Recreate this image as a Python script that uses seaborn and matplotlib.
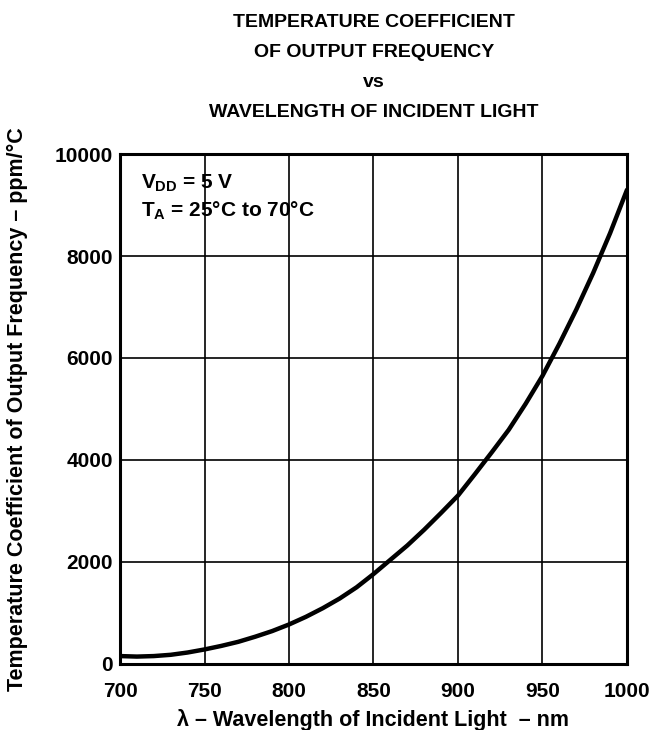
import matplotlib
matplotlib.use("Agg")
import matplotlib.pyplot as plt
import seaborn as sns
import pandas as pd

# values
wavelength = [700, 710, 720, 730, 740, 750, 760, 770, 780, 790, 800,
              810, 820, 830, 840, 850, 860, 870, 880, 890, 900,
              910, 920, 930, 940, 950, 960, 970, 980, 990, 1000]
tempco = [150, 140, 150, 175, 220, 280, 350, 430, 530, 640, 770,
          920, 1090, 1280, 1500, 1760, 2040, 2320, 2630, 2960, 3300,
          3720, 4150, 4590, 5100, 5650, 6280, 6950, 7670, 8450, 9300]

x_ticks = [700, 750, 800, 850, 900, 950, 1000]
y_ticks = [0, 2000, 4000, 6000, 8000, 10000]

title = "TEMPERATURE COEFFICIENT\nOF OUTPUT FREQUENCY\nvs\nWAVELENGTH OF INCIDENT LIGHT"
xlabel = "λ – Wavelength of Incident Light  – nm"
ylabel = "Temperature Coefficient of Output Frequency – ppm/°C"

df = pd.DataFrame({"wl": wavelength, "tc": tempco})

sns.set_style("white")
plt.rcParams["font.family"] = ["Liberation Sans", "DejaVu Sans"]
plt.rcParams["font.weight"] = "bold"
plt.rcParams["text.color"] = "black"
plt.rcParams["axes.labelcolor"] = "black"
plt.rcParams["xtick.color"] = "black"
plt.rcParams["ytick.color"] = "black"
plt.rcParams["mathtext.fontset"] = "custom"
plt.rcParams["mathtext.rm"] = "Liberation Sans:bold"
plt.rcParams["mathtext.it"] = "Liberation Sans:bold"
plt.rcParams["mathtext.bf"] = "Liberation Sans:bold"

fig = plt.figure(figsize=(6.54, 7.30), dpi=100)
ax = fig.add_axes([0.1835, 0.0908, 0.7752, 0.698])

sns.lineplot(data=df, x="wl", y="tc", ax=ax, color="black", linewidth=3.2)

ax.set_xlim(700, 1000)
ax.set_ylim(0, 10000)
ax.set_xticks(x_ticks)
ax.set_yticks(y_ticks)
ax.set_xticklabels([str(v) for v in x_ticks], fontsize=15, fontweight="bold")
ax.set_yticklabels([str(v) for v in y_ticks], fontsize=15, fontweight="bold")
ax.tick_params(axis="x", length=0, pad=13)
ax.tick_params(axis="y", length=0, pad=5)

ax.grid(True, color="black", linewidth=1.2)
ax.set_axisbelow(True)
for s in ax.spines.values():
    s.set_visible(True)
    s.set_color("black")
    s.set_linewidth(2.2)

ax.set_xlabel(xlabel, fontsize=15.5, fontweight="bold", labelpad=6)
ax.set_ylabel(ylabel, fontsize=15.5, fontweight="bold", labelpad=19)

fig.text(0.572, 0.981, title, ha="center", va="top", fontsize=14,
         fontweight="bold", linespacing=2.0)

ax.text(0.042, 0.963, "$V_{DD}$ = 5 V", transform=ax.transAxes,
        fontsize=15, fontweight="bold", va="top")
ax.text(0.042, 0.911, "$T_{A}$ = 25°C to 70°C", transform=ax.transAxes,
        fontsize=15, fontweight="bold", va="top")

fig.savefig("out.png", dpi=100)
